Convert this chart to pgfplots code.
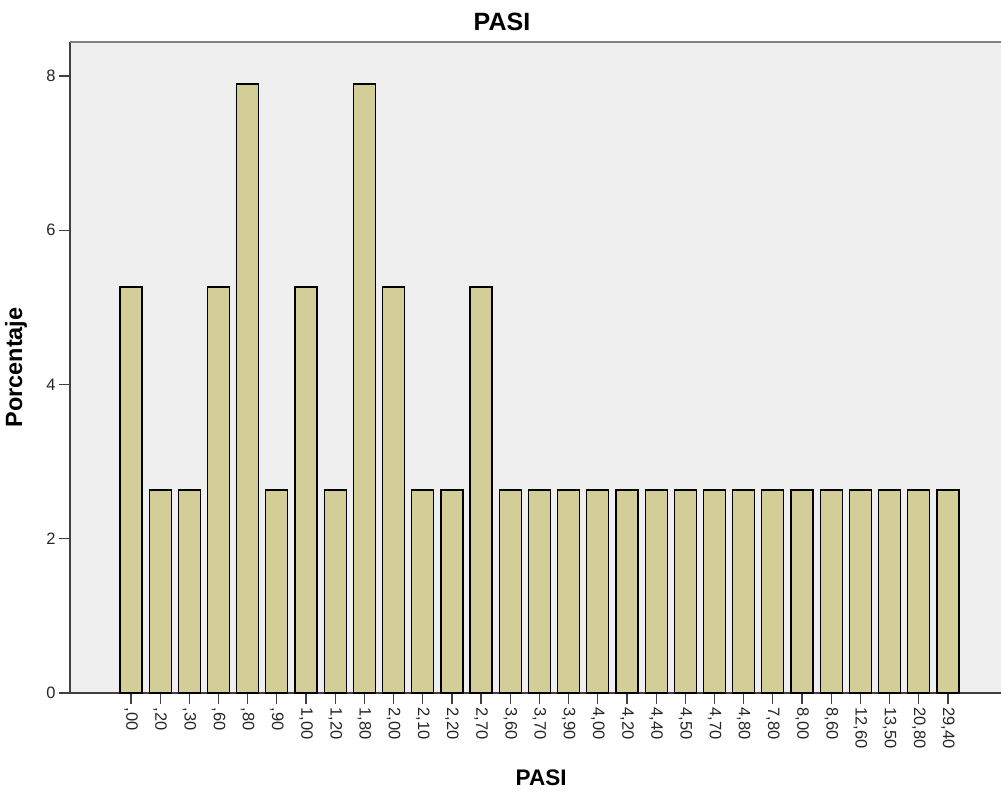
\documentclass[border=0pt]{standalone}
\usepackage{fontspec}
\setmainfont{Liberation Sans}
\usepackage{pgfplots}
\pgfplotsset{compat=1.18}
\definecolor{barfill}{RGB}{211,206,151}
\definecolor{bgfill}{RGB}{239,239,239}
\begin{document}
\begin{tikzpicture}
\begin{axis}[
  at={(0,0)}, anchor=south west,
  scale only axis, width=931pt, height=651pt,
  xmin=-2.09, xmax=29.82, ymin=0, ymax=8.44,
  axis x line*=bottom, axis y line*=left,
  axis line style={draw=black!75, line width=1.6pt, -},
  axis background/.style={fill=bgfill},
  ybar, bar width=22pt,
  xtick={0,...,28},
  xticklabels={{,00},{,20},{,30},{,60},{,80},{,90},{1,00},{1,20},{1,80},{2,00},{2,10},{2,20},{2,70},{3,60},{3,70},{3,90},{4,00},{4,20},{4,40},{4,50},{4,70},{4,80},{7,80},{8,00},{8,60},{12,60},{13,50},{20,80},{29,40}},
  ytick={0,2,4,6,8},
  tick style={draw=black!75, line width=1.2pt},
  tick align=outside, major tick length=11pt,
  x tick label style={rotate=-90, anchor=west, font=\fontsize{16.5}{19}\selectfont, text=black!85},
  y tick label style={font=\fontsize{16.5}{19}\selectfont, text=black!85},
  /pgf/number format/assume math mode=true,
  title={PASI},
  title style={at={(axis description cs:0.464,1.022)}, anchor=center, font=\bfseries\fontsize{25}{30}\selectfont},
  xlabel={PASI},
  xlabel style={at={(axis description cs:0.506,-0.130)}, anchor=center, font=\bfseries\fontsize{22.5}{27}\selectfont},
  ylabel={Porcentaje},
  ylabel style={at={(axis description cs:-0.058,0.5)}, anchor=center, rotate=0, font=\bfseries\fontsize{23.5}{28}\selectfont},
  clip=false,
]
\addplot[fill=barfill, draw=black, line width=1.2pt] coordinates {
(0,5.263) (1,2.632) (2,2.632) (3,5.263) (4,7.895) (5,2.632) (6,5.263) (7,2.632) (8,7.895) (9,5.263)
(10,2.632) (11,2.632) (12,5.263) (13,2.632) (14,2.632) (15,2.632) (16,2.632) (17,2.632) (18,2.632) (19,2.632)
(20,2.632) (21,2.632) (22,2.632) (23,2.632) (24,2.632) (25,2.632) (26,2.632) (27,2.632) (28,2.632)};
\draw[gray, line width=2.2pt] (rel axis cs:0,1) -- (rel axis cs:1,1);
\end{axis}
\pgfresetboundingbox
\useasboundingbox (-70pt,-101pt) rectangle (931pt,693pt);
\end{tikzpicture}
\end{document}
